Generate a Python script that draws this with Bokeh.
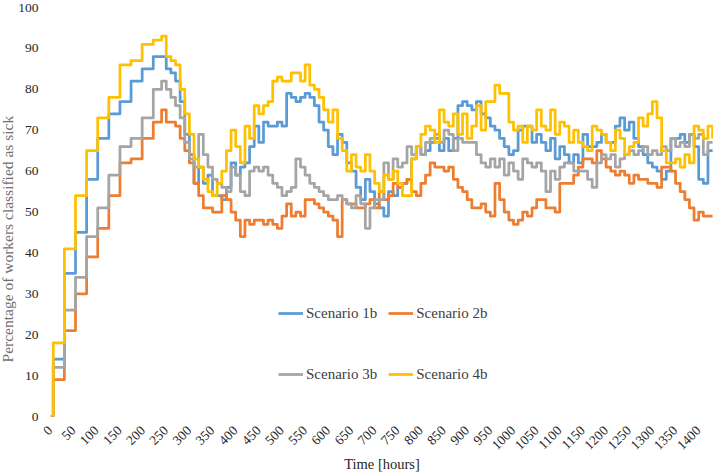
from math import pi
from bokeh.plotting import figure
from bokeh.models import Legend, LegendItem, FixedTicker, Range1d, Title
from bokeh.embed import file_html
from bokeh.resources import INLINE

# ---- data -------------------------------------------------------------
hours = [0, 6, 30, 54, 78, 102, 126, 150, 174, 198, 222, 240] + list(range(250, 1440, 10))

scenario_1b = [0, 14, 35, 45, 58, 68, 74, 77, 82, 85, 88, 88,
    85, 84, 82, 77, 69, 64, 57, 61, 57, 59,
    54, 54, 53, 56, 62, 59, 61, 62, 66, 71,
    67, 72, 71, 71, 72, 71, 79, 78, 77, 78,
    79, 78, 76, 72, 70, 66, 64, 69, 67, 62,
    60, 56, 53, 58, 55, 52, 51, 49, 55, 54,
    56, 57, 58, 63, 66, 64, 65, 67, 68, 65,
    68, 65, 68, 76, 77, 76, 75, 77, 74, 73,
    71, 70, 68, 66, 64, 65, 70, 71, 71, 67,
    69, 67, 65, 68, 63, 66, 64, 62, 64, 62,
    69, 66, 66, 67, 69, 67, 67, 71, 73, 70,
    72, 68, 66, 64, 62, 61, 60, 58, 60, 68,
    68, 69, 67, 69, 66, 58, 57, 65, 65]

scenario_2b = [0, 9, 21, 30, 39, 46, 54, 62, 63, 68, 72, 75,
    72, 72, 71, 68, 65, 62, 57, 54, 51, 51,
    50, 50, 54, 53, 50, 48, 44, 48, 47, 48,
    48, 47, 48, 47, 46, 49, 52, 49, 50, 49,
    53, 53, 52, 51, 50, 49, 48, 44, 53, 52,
    52, 51, 51, 52, 53, 51, 55, 53, 54, 57,
    56, 57, 58, 55, 54, 57, 59, 62, 61, 61,
    60, 61, 58, 56, 55, 53, 51, 51, 52, 50,
    49, 57, 53, 50, 48, 47, 48, 50, 49, 51,
    53, 53, 51, 51, 50, 57, 57, 57, 59, 61,
    63, 63, 62, 65, 63, 61, 60, 59, 60, 59,
    57, 59, 58, 58, 57, 57, 56, 61, 61, 60,
    57, 55, 53, 51, 48, 50, 49, 49, 49]

scenario_3b = [0, 12, 26, 34, 44, 51, 59, 66, 68, 73, 80, 82,
    80, 78, 76, 73, 67, 63, 61, 69, 64, 61,
    58, 57, 56, 55, 61, 59, 55, 54, 60, 61,
    60, 61, 59, 57, 56, 54, 55, 56, 63, 61,
    59, 57, 56, 55, 54, 53, 53, 54, 53, 52,
    51, 54, 52, 46, 51, 53, 53, 62, 58, 63,
    61, 62, 66, 64, 66, 64, 67, 68, 69, 67,
    70, 69, 65, 68, 67, 67, 67, 64, 62, 61,
    63, 61, 63, 59, 62, 60, 58, 63, 62, 61,
    62, 60, 55, 60, 58, 61, 62, 62, 60, 60,
    60, 58, 56, 62, 64, 63, 64, 61, 63, 64,
    65, 64, 65, 66, 64, 65, 64, 66, 65, 68,
    66, 67, 66, 69, 68, 69, 64, 67, 67]

scenario_4b = [0, 18, 41, 54, 65, 73, 78, 86, 87, 91, 92, 93,
    88, 87, 86, 80, 74, 69, 63, 61, 58, 55,
    54, 57, 60, 65, 70, 66, 62, 71, 68, 76,
    74, 76, 77, 82, 83, 82, 82, 84, 84, 82,
    86, 81, 80, 78, 75, 72, 75, 68, 65, 60,
    64, 61, 60, 64, 60, 57, 55, 59, 58, 60,
    57, 54, 54, 63, 66, 69, 71, 70, 67, 75,
    72, 71, 74, 69, 74, 68, 71, 76, 70, 77,
    77, 81, 79, 79, 72, 70, 71, 67, 71, 70,
    75, 71, 70, 75, 69, 72, 71, 67, 70, 67,
    66, 65, 71, 70, 69, 67, 65, 70, 68, 64,
    66, 67, 73, 71, 74, 77, 73, 65, 62, 62,
    63, 61, 64, 62, 71, 70, 68, 71, 68]

series_names = ["Scenario 1b", "Scenario 2b", "Scenario 3b", "Scenario 4b"]
series_colors = ["#5B9BD5", "#ED7D31", "#A5A5A5", "#FFC000"]
x_ticks = list(range(0, 1401, 50))
y_ticks = list(range(0, 101, 10))

SERIF = "'Liberation Serif', 'Times New Roman', serif"

# ---- figure -----------------------------------------------------------
p = figure(frame_width=663, frame_height=409,
           min_border_left=58, min_border_right=0, min_border_top=15, min_border_bottom=57,
           x_range=Range1d(0, 1432), y_range=Range1d(0, 100),
           output_backend="svg", toolbar_location=None,
           margin=(-8, -8, -8, -8))
p.outline_line_color = None
p.background_fill_color = "white"
p.border_fill_color = "white"
p.grid.visible = False

renderers = []
for vals, name, col in zip([scenario_1b, scenario_2b, scenario_3b, scenario_4b],
                           series_names, series_colors):
    r = p.step(hours, vals, mode="after", line_color=col, line_width=2.75,
               line_join="round")
    renderers.append(r)

for ax in (p.xaxis[0], p.yaxis[0]):
    ax.axis_line_color = None
    ax.major_tick_line_color = None
    ax.minor_tick_line_color = None
    ax.major_tick_out = 0
    ax.major_tick_in = 0
    ax.minor_tick_out = 0
    ax.minor_tick_in = 0
    ax.major_label_text_font = SERIF
    ax.major_label_text_font_size = "13.5px"
    ax.major_label_text_color = "#262626"
    ax.axis_label_text_font = SERIF
    ax.axis_label_text_font_style = "normal"
    ax.axis_label_standoff = 0

p.xaxis[0].ticker = FixedTicker(ticks=x_ticks)
p.yaxis[0].ticker = FixedTicker(ticks=y_ticks)
p.xaxis[0].major_label_orientation = pi / 4
p.xaxis[0].major_label_standoff = 12
p.yaxis[0].major_label_standoff = 12

p.xaxis[0].axis_label = "Time [hours]"
p.xaxis[0].axis_label_text_font_size = "14.5px"
p.xaxis[0].axis_label_text_color = "#262626"

# y-axis title; trailing no-break spaces push the visible text below the frame centre,
# as in the reference
y_title = "Percentage of workers classified as sick" + "\u00a0" * 14
p.add_layout(Title(text=y_title, align="center", standoff=0,
                   text_font=SERIF, text_font_size="15.5px",
                   text_font_style="normal", text_color="#707070"), "left")

def make_legend(idx, loc):
    lg = Legend(items=[LegendItem(label=series_names[i], renderers=[renderers[i]]) for i in idx],
                location=loc, orientation="horizontal",
                padding=0, margin=0, spacing=11,
                glyph_width=25, glyph_height=20, label_standoff=3,
                label_text_font=SERIF, label_text_font_size="15px",
                label_text_color="#404040",
                border_line_color=None, background_fill_alpha=0)
    return lg

p.add_layout(make_legend([0, 1], (228, 93)))
p.add_layout(make_legend([2, 3], (228, 32)))

open("out.html", "w").write(file_html(p, INLINE))
